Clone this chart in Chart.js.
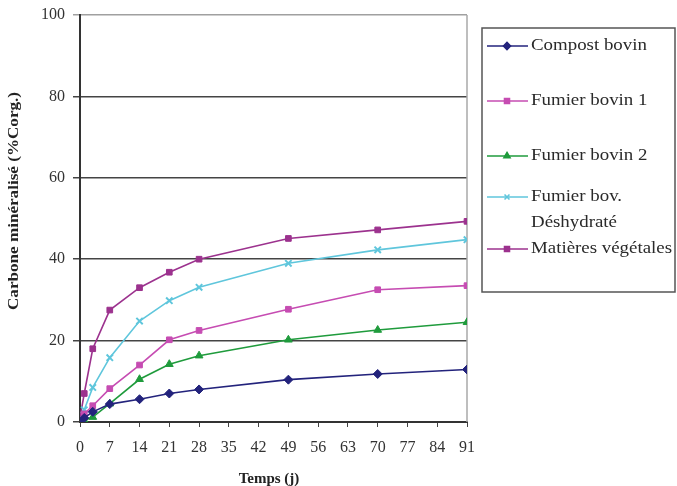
<!DOCTYPE html>
<html>
<head>
<meta charset="utf-8">
<script src="https://cdn.jsdelivr.net/npm/chart.js@4.4.1/dist/chart.umd.min.js"></script>
<style>
  html, body { margin: 0; padding: 0; background: #fff; }
  #wrap { width: 677px; height: 486px; }
</style>
</head>
<body>
<div id="wrap"><canvas id="c" width="677" height="486"></canvas></div>
<script>
// Incubation days
const days = [0, 1, 3, 7, 14, 21, 28, 49, 70, 91];

// Mineralised carbon (% of organic C) per product
const compostBovin = [0, 1, 2.5, 4.4, 5.6, 7.0, 8.0, 10.4, 11.8, 12.9];
const fumierBovin1 = [0.5, 2, 4, 8.2, 14, 20.2, 22.5, 27.7, 32.5, 33.5];
const fumierBovin2 = [0, 0.4, 1.2, 4.5, 10.5, 14.2, 16.3, 20.2, 22.6, 24.5];
const fumierDeshydrate = [0.5, 3, 8.5, 15.8, 24.8, 29.8, 33.1, 39, 42.3, 44.8];
const matieresVegetales = [1, 7, 18, 27.5, 33, 36.8, 40, 45.1, 47.2, 49.3];

// Legend names (one entry per line of text)
const seriesNames = [
  ['Compost bovin'],
  ['Fumier bovin 1'],
  ['Fumier bovin 2'],
  ['Fumier bov.', 'Déshydraté'],
  ['Matières végétales']
];
const seriesValues = [compostBovin, fumierBovin1, fumierBovin2, fumierDeshydrate, matieresVegetales];
const seriesColors = ['#23237c', '#c64cb2', '#1f9b3c', '#5fc6dc', '#9c328e'];
const seriesMarkers = ['rectRot', 'rect', 'triangle', 'crossRot', 'rect'];

const xTicks = [0, 7, 14, 21, 28, 35, 42, 49, 56, 63, 70, 77, 84, 91];
const yTicks = [0, 20, 40, 60, 80, 100];

const xTitle = 'Temps (j)';
const yTitle = 'Carbone minéralisé (%Corg.)';

const SERIF = '"Liberation Serif", "Times New Roman", serif';

const datasets = seriesValues.map((vals, i) => ({
  label: seriesNames[i].join(' '),
  data: vals.map((v, k) => ({ x: days[k], y: v })),
  borderColor: seriesColors[i],
  backgroundColor: seriesColors[i],
  pointStyle: seriesMarkers[i],
  pointRadius: seriesMarkers[i] === 'rect' ? 4 : 4.5,
  pointBorderWidth: seriesMarkers[i] === 'crossRot' ? 2 : 1,
  borderWidth: 1.6,
  tension: 0
}));

// text drawn with a wider set width (stretched along its baseline)
function wideText(ctx, text, x, y, sx, angle) {
  ctx.save();
  ctx.translate(x, y);
  if (angle) ctx.rotate(angle);
  ctx.scale(sx, 1);
  ctx.fillText(text, 0, 0);
  ctx.restore();
}

// Axis titles, right frame of the plot area and the boxed legend
const framePlugin = {
  id: 'frameAndLegend',
  beforeDatasetsDraw(chart) {
    const { ctx, chartArea } = chart;
    ctx.save();
    ctx.strokeStyle = '#a8a8a8';
    ctx.lineWidth = 1.5;
    ctx.beginPath();
    ctx.moveTo(chartArea.right, chartArea.top);
    ctx.lineTo(chartArea.right, chartArea.bottom);
    ctx.stroke();
    ctx.restore();
  },
  afterDraw(chart) {
    const { ctx } = chart;
    ctx.save();

    // axis titles
    ctx.fillStyle = '#222';
    ctx.font = 'bold 15px ' + SERIF;
    ctx.textAlign = 'center';
    ctx.textBaseline = 'middle';
    wideText(ctx, xTitle, 269, 479, 1, 0);
    wideText(ctx, yTitle, 14, 201, 1.14, -Math.PI / 2);

    // legend
    ctx.textAlign = 'left';
    ctx.strokeStyle = '#555';
    ctx.lineWidth = 1.5;
    ctx.strokeRect(482, 28, 193, 264);
    const rowY = [46, 101, 156, 197, 249];
    ctx.font = '16px ' + SERIF;
    seriesNames.forEach((lines, i) => {
      const y = rowY[i];
      ctx.strokeStyle = seriesColors[i];
      ctx.fillStyle = seriesColors[i];
      ctx.lineWidth = 1.6;
      ctx.beginPath();
      ctx.moveTo(487, y);
      ctx.lineTo(528, y);
      ctx.stroke();
      Chart.helpers.drawPoint(ctx, { pointStyle: seriesMarkers[i], radius: 3.5, borderWidth: 1 }, 507, y);
      ctx.fill();
      ctx.fillStyle = '#2a2a2a';
      lines.forEach((t, j) => wideText(ctx, t, 531, y + j * 26, 1.18, 0));
    });
    ctx.restore();
  }
};

new Chart(document.getElementById('c'), {
  type: 'line',
  data: { datasets },
  options: {
    responsive: false,
    animation: false,
    layout: { padding: { top: 15, right: 210, bottom: 0, left: 0 } },
    plugins: { legend: { display: false }, tooltip: { enabled: false } },
    scales: {
      x: {
        type: 'linear',
        min: 0,
        max: 91,
        afterBuildTicks(scale) { scale.ticks = xTicks.map(v => ({ value: v })); },
        afterFit(scale) { scale.height = 64; },
        grid: { drawOnChartArea: false, drawTicks: true, tickLength: 5, color: '#444', lineWidth: 1 },
        border: { color: '#333', width: 2 },
        ticks: { color: '#333', font: { family: SERIF, size: 16 }, padding: 11, maxRotation: 0, autoSkip: false }
      },
      y: {
        type: 'linear',
        min: 0,
        max: 100,
        afterBuildTicks(scale) { scale.ticks = yTicks.map(v => ({ value: v })); },
        afterFit(scale) { scale.width = 80; scale.paddingTop = 0; scale.paddingBottom = 0; },
        grid: {
          color: c => (c.tick && c.tick.value === 100 ? '#a0a0a0' : '#444'),
          lineWidth: 1.5,
          tickLength: 7
        },
        border: { color: '#333', width: 2 },
        ticks: { color: '#333', font: { family: SERIF, size: 16 }, padding: 8 }
      }
    }
  },
  plugins: [framePlugin]
});
</script>
</body>
</html>
